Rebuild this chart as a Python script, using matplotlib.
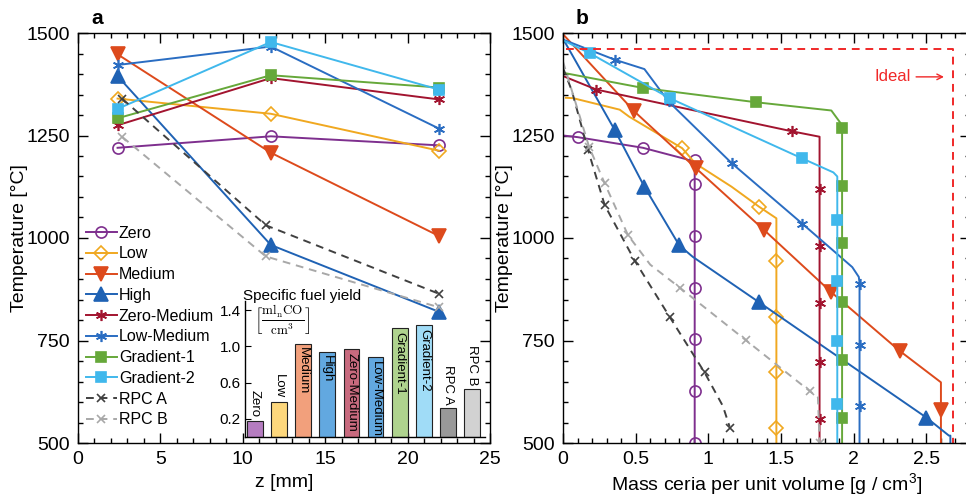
import matplotlib
matplotlib.use('Agg')
import matplotlib.pyplot as plt
from matplotlib.ticker import MultipleLocator

plt.rcParams['font.family'] = ['Liberation Sans', 'DejaVu Sans']
plt.rcParams['mathtext.fontset'] = 'custom'
plt.rcParams['mathtext.rm'] = 'Liberation Sans'
plt.rcParams['axes.linewidth'] = 1.0

names = ['Zero', 'Low', 'Medium', 'High', 'Zero-Medium', 'Low-Medium',
         'Gradient-1', 'Gradient-2', 'RPC A', 'RPC B']
colors = ['#7E2F8E', '#F0A820', '#DD4A1C', '#1F62B4', '#A2142F', '#2A6DC2',
          '#66A83A', '#40B8EC', '#404040', '#A8A8A8']
markers = ['o', 'D', 'v', '^', (6, 2, 0), (6, 2, 0), 's', 's', 'x', 'x']
msizes = [8, 7, 10, 10, 8, 8, 7, 7, 6, 6]
hollow = [True, True, False, False, False, False, False, False, False, False]
dashed = [False] * 8 + [True, True]

# panel a: temperature along z
z_pos = [2.4, 11.7, 21.9]
z_rpc = [2.7, 11.4, 21.9]
t_zero = [1220, 1248, 1226]
t_low = [1340, 1303, 1213]
t_medium = [1448, 1208, 1005]
t_high = [1395, 983, 820]
t_zero_medium = [1275, 1390, 1338]
t_low_medium = [1422, 1467, 1267]
t_gradient1 = [1292, 1397, 1367]
t_gradient2 = [1315, 1478, 1362]
t_rpc_a = [1339, 1031, 864]
t_rpc_b = [1246, 955, 831]
t_series = [t_zero, t_low, t_medium, t_high, t_zero_medium, t_low_medium,
            t_gradient1, t_gradient2, t_rpc_a, t_rpc_b]
z_series = [z_pos] * 8 + [z_rpc, z_rpc]

# inset: specific fuel yield
fuel_yield = [0.18, 0.39, 1.03, 0.94, 0.97, 0.88, 1.20, 1.23, 0.32, 0.53]
bar_colors = ['#B57CC0', '#FDD77C', '#F2A07C', '#62A8E0', '#C86A7E', '#62A8E0',
              '#AFD38E', '#A0DCF7', '#999999', '#D2D2D2']

# panel b: temperature vs cumulative ceria mass (curve vertices and markers)
bx_zero = [0, 0.10, 0.55, 0.85, 0.906, 0.906]
bt_zero = [1250, 1246, 1220, 1192, 1184, 500]
mx_zero = [0.10, 0.55, 0.91, 0.906, 0.906, 0.906, 0.906, 0.906, 0.906]
mt_zero = [1246, 1220, 1190, 1132, 1004, 879, 754, 627, 501]

bx_low = [0.02, 0.07, 0.39, 0.455, 0.82, 0.91, 1.16, 1.35, 1.468, 1.468]
bt_low = [1342, 1341, 1313, 1296, 1219, 1182, 1125, 1076, 1048, 500]
mx_low = [0.82, 1.35, 1.468, 1.468, 1.468, 1.468]
mt_low = [1219, 1076, 945, 807, 672, 537]

bx_medium = [0, 0.49, 0.915, 1.385, 1.845, 2.315, 2.60, 2.60]
bt_medium = [1497, 1309, 1170, 1019, 868, 725, 648, 500]
mx_medium = [0.49, 0.915, 1.385, 1.845, 2.315, 2.60]
mt_medium = [1309, 1170, 1019, 868, 725, 580]

bx_high = [0, 0.355, 0.56, 0.80, 0.893, 1.35, 2.50, 2.655, 2.665, 2.665]
bt_high = [1486, 1264, 1125, 982, 954, 843, 562, 518, 518, 500]
mx_high = [0.355, 0.56, 0.80, 1.35, 2.50]
mt_high = [1264, 1125, 982, 843, 562]

bx_zero_medium = [0, 0.23, 1.578, 1.765, 1.765]
bt_zero_medium = [1395, 1362, 1260, 1247, 500]
mx_zero_medium = [0.23, 1.578, 1.765, 1.765, 1.765, 1.765, 1.765]
mt_zero_medium = [1362, 1260, 1119, 980, 841, 698, 558]

bx_low_medium = [0, 0.355, 0.56, 0.726, 1.162, 1.646, 1.99, 2.035, 2.04, 2.04]
bt_low_medium = [1484, 1435, 1412, 1333, 1182, 1035, 929, 905, 890, 500]
mx_low_medium = [0.355, 0.726, 1.162, 1.646, 2.04, 2.04, 2.04]
mt_low_medium = [1435, 1333, 1182, 1035, 889, 738, 591]

bx_gradient1 = [0, 0.55, 1.33, 1.846, 1.91, 1.92, 1.92]
bt_gradient1 = [1403, 1366, 1331, 1311, 1280, 1265, 500]
mx_gradient1 = [0.55, 1.33, 1.92, 1.92, 1.92, 1.92, 1.92, 1.92]
mt_gradient1 = [1366, 1331, 1268, 1127, 988, 843, 703, 560]

bx_gradient2 = [0, 0.183, 0.734, 1.646, 1.86, 1.887, 1.887]
bt_gradient2 = [1482, 1451, 1341, 1194, 1160, 1150, 500]
mx_gradient2 = [0.183, 0.734, 1.646, 1.887, 1.887, 1.887, 1.887]
mt_gradient2 = [1451, 1341, 1194, 1043, 895, 748, 596]

bx_rpc_a = [0, 0.06, 0.172, 0.287, 0.493, 0.733, 0.974, 1.10, 1.146]
bt_rpc_a = [1415, 1360, 1215, 1080, 945, 808, 672, 590, 540]
mx_rpc_a = [0.172, 0.287, 0.493, 0.733, 0.974, 1.146]
mt_rpc_a = [1215, 1080, 945, 808, 672, 537]

bx_rpc_b = [0, 0.179, 0.287, 0.447, 0.60, 0.803, 1.257, 1.696, 1.754, 1.765]
bt_rpc_b = [1430, 1223, 1133, 1007, 935, 879, 751, 627, 611, 500]
mx_rpc_b = [0.179, 0.287, 0.447, 0.803, 1.257, 1.696, 1.765]
mt_rpc_b = [1223, 1133, 1007, 879, 751, 627, 501]

bx_series = [bx_zero, bx_low, bx_medium, bx_high, bx_zero_medium, bx_low_medium,
             bx_gradient1, bx_gradient2, bx_rpc_a, bx_rpc_b]
bt_series = [bt_zero, bt_low, bt_medium, bt_high, bt_zero_medium, bt_low_medium,
             bt_gradient1, bt_gradient2, bt_rpc_a, bt_rpc_b]
mx_series = [mx_zero, mx_low, mx_medium, mx_high, mx_zero_medium, mx_low_medium,
             mx_gradient1, mx_gradient2, mx_rpc_a, mx_rpc_b]
mt_series = [mt_zero, mt_low, mt_medium, mt_high, mt_zero_medium, mt_low_medium,
             mt_gradient1, mt_gradient2, mt_rpc_a, mt_rpc_b]

ideal_x = [0.02, 2.68, 2.68]
ideal_t = [1460, 1460, 500]

W, H = 966, 496
fig = plt.figure(figsize=(W / 100, H / 100), dpi=100)
ax1 = fig.add_axes([78 / W, 53 / H, 412 / W, 410 / H])
ax2 = fig.add_axes([563 / W, 53 / H, 407 / W, 410 / H])


def style_marker(i):
    kw = dict(marker=markers[i], markersize=msizes[i], markeredgecolor=colors[i],
              markeredgewidth=1.2)
    kw['markerfacecolor'] = 'none' if hollow[i] else colors[i]
    return kw


for i, name in enumerate(names):
    ls = (0, (4, 3)) if dashed[i] else '-'
    ax1.plot(z_series[i], t_series[i], color=colors[i], lw=1.4, ls=ls,
             label=name, **style_marker(i))

for i in range(len(names)):
    ls = (0, (4, 3)) if dashed[i] else '-'
    ax2.plot(bx_series[i], bt_series[i], color=colors[i], lw=1.4, ls=ls)
    ax2.plot(mx_series[i], mt_series[i], ls='none', **style_marker(i))

ax2.plot(ideal_x, ideal_t, color='#F02828', lw=1.4, ls=(0, (4, 3)))
ax2.text(2.27, 1393, 'Ideal', color='#F02828', fontsize=12, ha='center', va='center')
ax2.annotate('', xy=(2.64, 1393), xytext=(2.41, 1393),
             arrowprops=dict(arrowstyle='->', color='#F02828', lw=1))

for ax in (ax1, ax2):
    ax.set_ylim(500, 1500)
    ax.yaxis.set_major_locator(MultipleLocator(250))
    ax.yaxis.set_minor_locator(MultipleLocator(50))
    ax.tick_params(which='both', direction='in', top=True, right=True,
                   labelsize=14, width=1, pad=6)
    ax.tick_params(which='major', length=7)
    ax.tick_params(which='minor', length=3.5)
    ax.set_ylabel('Temperature [°C]', fontsize=14, labelpad=-1)

ax1.set_xlim(0, 25)
ax1.xaxis.set_major_locator(MultipleLocator(5))
ax1.xaxis.set_minor_locator(MultipleLocator(1))
ax1.set_xlabel('z [mm]', fontsize=14, labelpad=4)

ax2.set_xlim(0, 2.8)
ax2.xaxis.set_major_locator(MultipleLocator(0.5))
ax2.xaxis.set_minor_locator(MultipleLocator(0.1))
ax2.set_xticks([0, 0.5, 1, 1.5, 2, 2.5])
ax2.set_xticklabels(['0', '0.5', '1', '1.5', '2', '2.5'])
ax2.set_xlabel('Mass ceria per unit volume [g / cm$^3$]', fontsize=14, labelpad=2)

ax1.legend(loc='upper left', bbox_to_anchor=(0.02, 0.53), frameon=False,
           fontsize=11.5, handlelength=1.9, handletextpad=0.15, labelspacing=0.36,
           borderpad=0, borderaxespad=0)

# inset bar chart
axi = fig.add_axes([245 / W, 59 / H, 240 / W, 136 / H])
axi.patch.set_alpha(0)
xs = list(range(1, len(names) + 1))
axi.bar(xs, fuel_yield, width=0.65, color=bar_colors, edgecolor='#222222', lw=0.8)
for x, v, name in zip(xs, fuel_yield, names):
    if v > 0.8:
        axi.text(x, v - 0.04, name, rotation=270, ha='center', va='top', fontsize=9.5)
    else:
        axi.text(x, v + 0.04, name, rotation=270, ha='center', va='bottom', fontsize=9.5)
axi.set_xlim(0.594, 10.53)
axi.set_ylim(0, 1.5)
axi.set_yticks([0.2, 0.6, 1.0, 1.4])
axi.set_yticklabels(['0.2', '0.6', '1.0', '1.4'])
axi.set_xticks([])
axi.tick_params(axis='y', direction='in', length=4, labelsize=11, pad=3)
axi.spines['top'].set_visible(False)
axi.spines['right'].set_visible(False)
axi.text(-0.01, 1.04, 'Specific fuel yield', transform=axi.transAxes, fontsize=11,
         ha='left', va='center')
axi.text(0.155, 0.86, r'$\left[\frac{\mathrm{ml_n CO}}{\mathrm{cm^3}}\right]$',
         transform=axi.transAxes, fontsize=13.5, ha='center', va='center',
         math_fontfamily='cm')

fig.text(97 / W, 1 - 18 / H, 'a', fontsize=15, fontweight='bold', ha='center', va='center')
fig.text(582 / W, 1 - 18 / H, 'b', fontsize=15, fontweight='bold', ha='center', va='center')

fig.savefig('out.png', dpi=100)
